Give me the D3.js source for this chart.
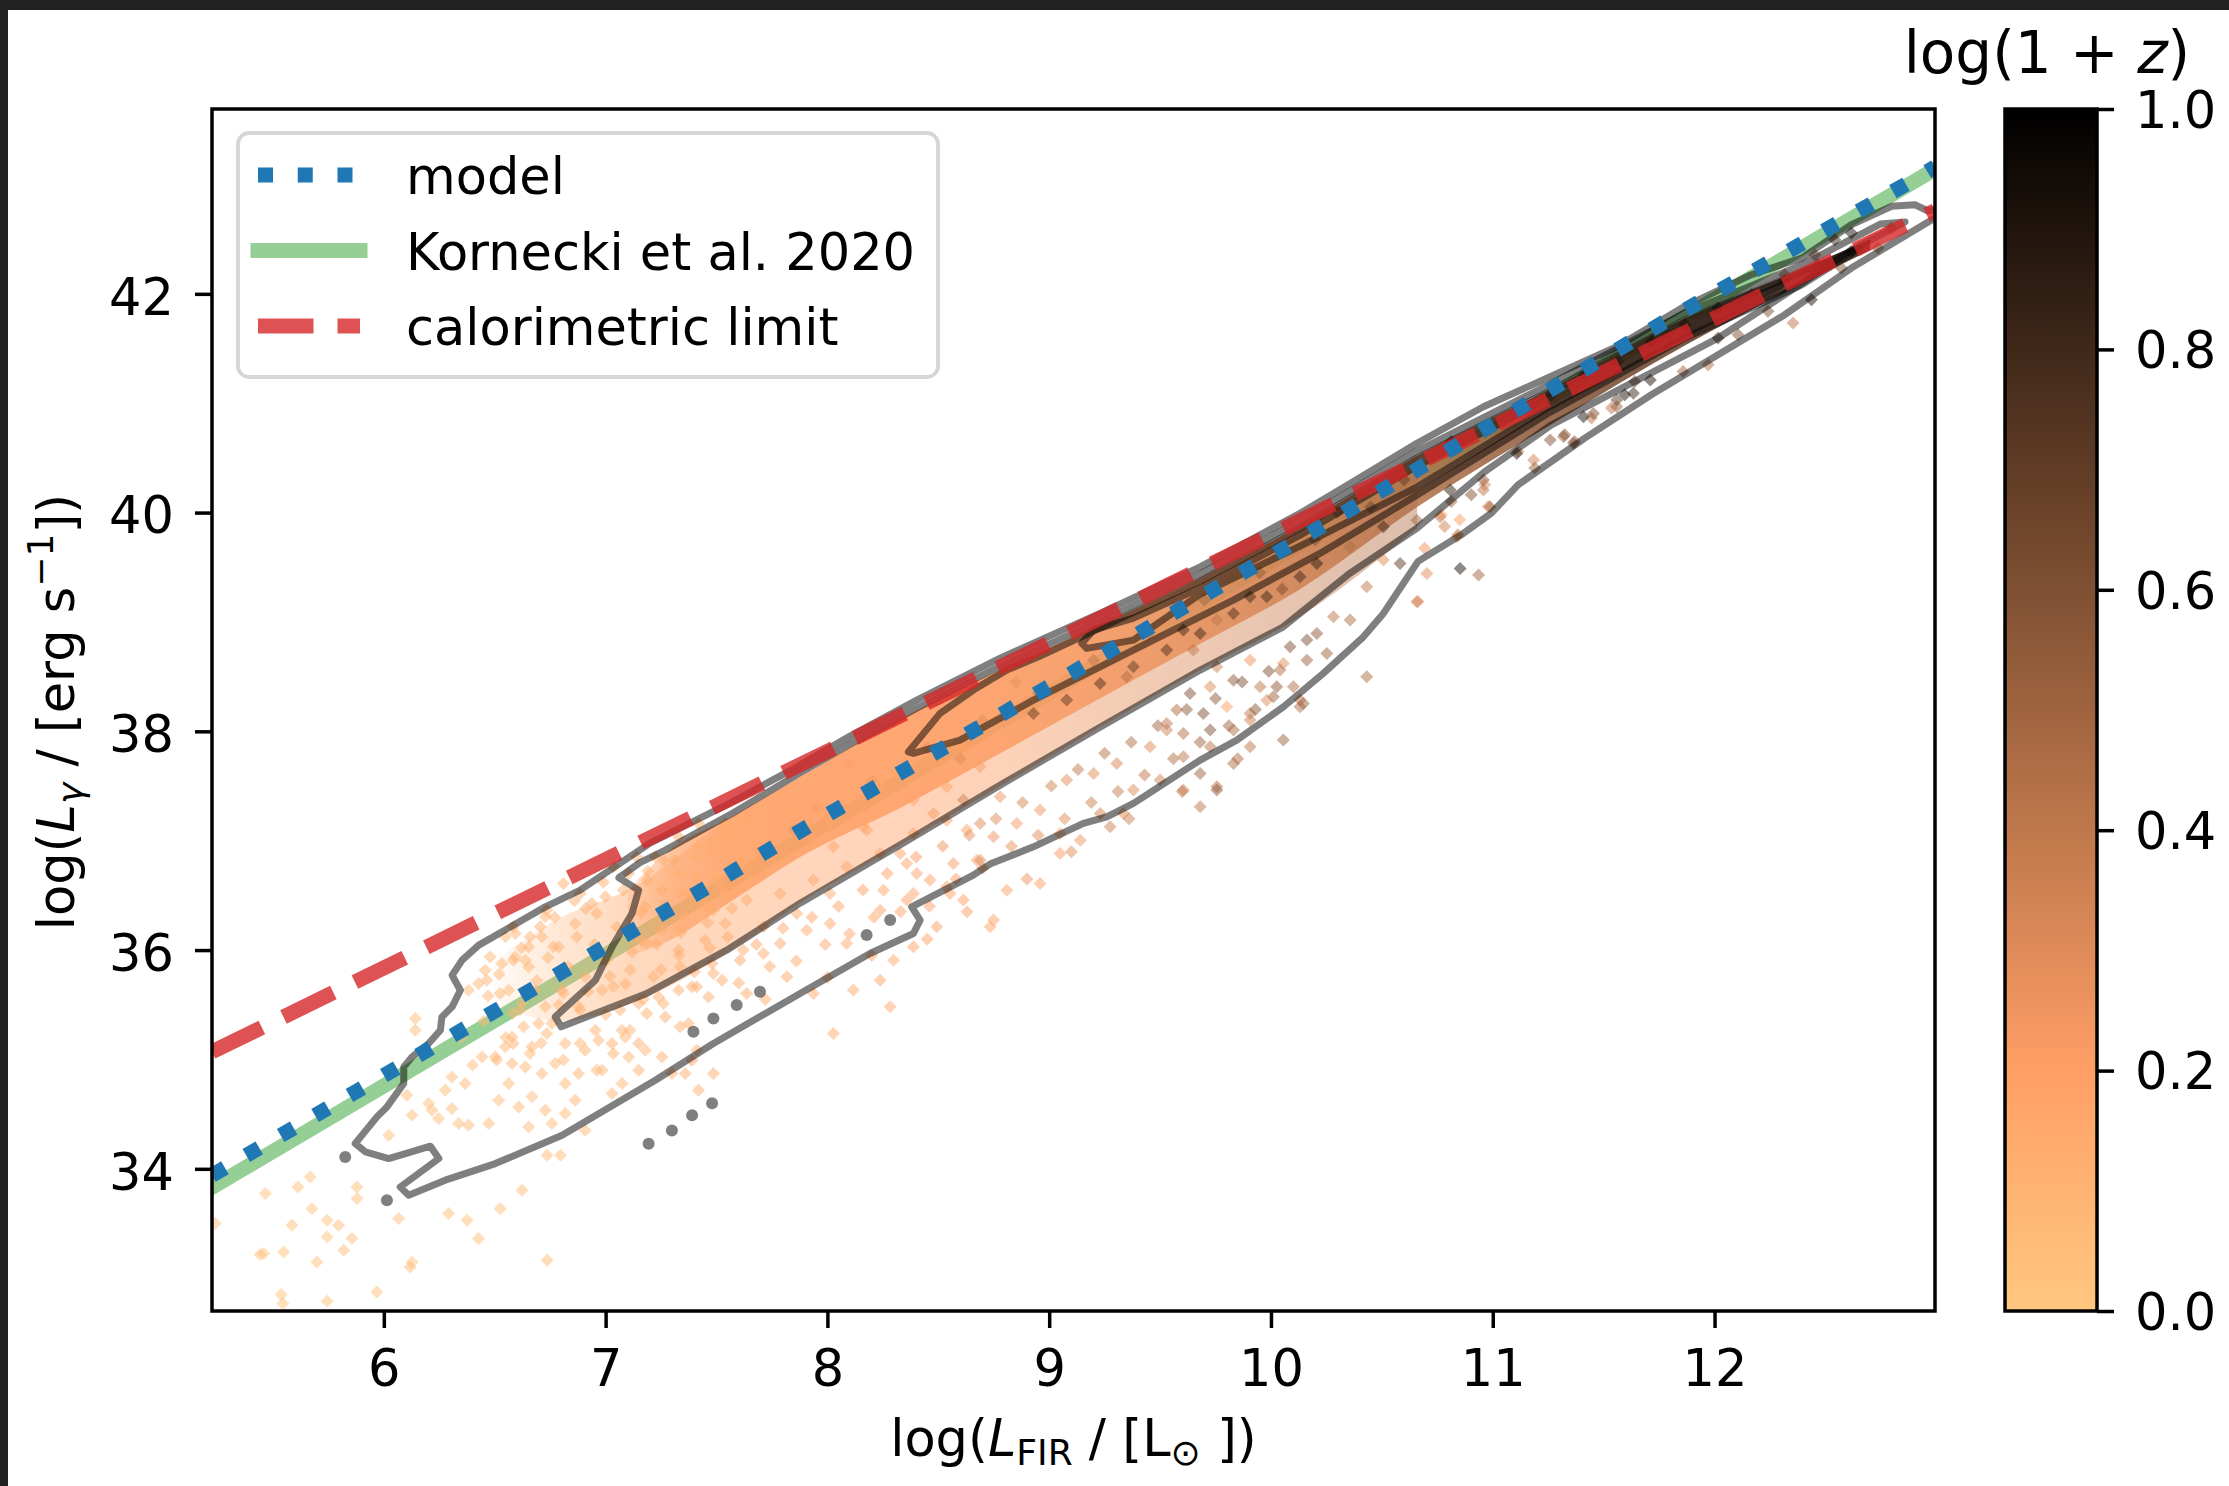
<!DOCTYPE html>
<html><head><meta charset="utf-8">
<script src="https://cdn.jsdelivr.net/npm/d3@7"></script>
<style>
html,body{margin:0;padding:0;background:#fff;}
svg{display:block;}
text{font-family:"DejaVu Sans",sans-serif;}
</style></head><body>
<svg id="chart" width="2229" height="1486"></svg>
<script>
// ---------------- data ----------------
const xTicks = [6,7,8,9,10,11,12];
const yTicks = [34,36,38,40,42];
const cbTicks = [0,0.2,0.4,0.6,0.8,1.0];
const xDomain = [5.2253, 12.994];
const yDomain = [32.70, 43.69];
const legendLabels = ["model","Kornecki et al. 2020","calorimetric limit"];

const modelX = [5.225, 6.524, 7.48, 7.952, 8.756, 9.552, 10.176, 10.663, 11.754, 12.887, 12.994];
const modelY = [33.94, 35.47, 36.60, 37.18, 38.12, 39.07, 39.81, 40.40, 41.72, 43.03, 43.16];
const kornX = [5.2253, 12.994];
const kornY = [33.83, 43.14];
const calX = [5.2253, 12.994];
const calY = [35.07, 42.76];

const contour1 = [[5.871,34.231],[5.969,34.475],[6.014,34.566],[6.090,34.780],[6.090,34.932],[6.127,35.023],[6.202,35.146],[6.255,35.267],[6.262,35.389],[6.308,35.481],[6.345,35.633],[6.308,35.770],[6.353,35.908],[6.428,36.045],[6.728,36.395],[6.885,36.548],[7.200,36.978],[7.561,37.343],[7.863,37.675],[8.102,37.956],[8.403,38.285],[8.779,38.669],[9.229,39.078],[9.681,39.504],[10.131,39.993],[10.357,40.267],[10.658,40.633],[10.958,40.968],[11.259,41.242],[11.559,41.516],[11.866,41.886],[12.166,42.175],[12.392,42.327],[12.617,42.632],[12.798,42.800],[12.903,42.815],[12.960,42.760],[13.05,42.78],[13.05,42.70],[12.993,42.693],[12.617,42.236],[12.317,41.809],[12.016,41.443],[11.715,41.077],[11.415,40.681],[11.114,40.254],[10.994,39.995],[10.858,39.797],[10.663,39.554],[10.507,39.078],[10.417,38.864],[10.236,38.530],[10.056,38.224],[9.846,37.919],[9.681,37.737],[9.380,37.341],[9.260,37.218],[9.154,37.158],[8.929,36.944],[8.733,36.786],[8.658,36.685],[8.380,36.395],[8.418,36.273],[8.388,36.152],[8.192,35.969],[7.877,35.603],[7.486,35.146],[7.224,34.810],[6.804,34.307],[6.503,34.048],[6.277,33.896],[6.112,33.759],[6.074,33.834],[6.248,34.094],[6.210,34.207],[6.022,34.094],[5.917,34.155]];
const contour2 = [[6.800,35.298],[6.773,35.389],[6.954,35.725],[7.029,36.029],[7.119,36.335],[7.149,36.548],[7.060,36.662],[7.155,36.799],[7.269,36.914],[7.570,37.249],[7.863,37.602],[8.102,37.883],[8.403,38.212],[8.779,38.596],[9.229,39.008],[9.681,39.438],[10.131,39.922],[10.658,40.562],[11.259,41.175],[11.866,41.824],[12.392,42.263],[12.747,42.638],[12.859,42.657],[12.702,42.492],[12.617,42.401],[12.317,41.992],[12.016,41.596],[11.565,41.120],[11.263,40.800],[10.961,40.370],[10.659,39.858],[10.357,39.447],[10.054,38.953],[9.681,38.560],[9.229,38.038],[8.779,37.508],[8.350,36.987],[7.877,36.429],[7.546,35.999],[7.185,35.603]];
const contour3 = [[8.365,37.812],[8.508,38.164],[8.658,38.377],[8.809,38.560],[8.959,38.688],[9.229,38.944],[9.681,39.374],[10.131,39.858],[10.658,40.498],[11.259,41.111],[11.866,41.760],[12.392,42.199],[12.656,42.419],[12.392,42.080],[11.866,41.596],[11.259,40.919],[10.659,40.160],[10.221,39.627],[9.830,39.200],[9.530,38.895],[9.229,38.590],[8.929,38.285],[8.598,37.919],[8.388,37.798]];
const contour4 = [[9.147,38.804],[9.199,38.925],[9.380,39.035],[9.681,39.310],[10.131,39.794],[10.658,40.425],[11.259,41.047],[11.866,41.687],[12.296,42.071],[11.866,41.633],[11.259,40.974],[10.659,40.233],[10.131,39.694],[9.681,39.255],[9.380,38.834],[9.169,38.758]];
const contourIslands = [[5.826,34.109],[6.014,33.712],[7.194,34.23],[7.299,34.35],[7.39,34.49],[7.48,34.6],[7.396,35.253],[7.486,35.375],[7.591,35.497],[7.696,35.619],[8.177,36.137],[8.283,36.274]];

// dense core of the cloud: edges and typical log(1+z) along it
const coreX      = [7.1, 7.3, 7.57, 7.877, 8.328, 8.779, 9.229, 9.681, 10.131, 10.659, 11.259, 11.868, 12.386, 12.702];
const coreTop    = [36.55, 36.93, 37.22, 37.58, 38.11, 38.56, 38.97, 39.40, 39.88, 40.52, 41.13, 41.78, 42.22, 42.50];
const coreBottom = [35.95, 36.10, 36.45, 36.85, 37.30, 37.80, 38.30, 38.80, 39.30, 40.05, 40.80, 41.53, 42.08, 42.40];
const coreZ      = [0.18, 0.18, 0.19, 0.2, 0.2, 0.21, 0.23, 0.28, 0.35, 0.45, 0.58, 0.7, 0.8, 0.85];
// looser halo around the core
const haloX      = [6.5, 6.8, 7.1, 7.57, 7.877, 8.328, 8.779, 9.229, 9.681, 10.131, 10.659];
const haloTop    = [35.90, 36.30, 36.55, 37.22, 37.58, 38.11, 38.56, 38.97, 39.40, 39.88, 40.52];
const haloBottom = [35.50, 35.35, 35.50, 36.00, 36.43, 36.96, 37.50, 38.04, 38.56, 39.05, 39.86];
const haloZ      = [0.1, 0.12, 0.14, 0.16, 0.18, 0.2, 0.22, 0.27, 0.32, 0.38, 0.45];

// galaxies: [log L_FIR, log L_gamma, log(1+z)]
const scatterLow = [[5.466,33.774,.03],[5.613,33.834,.04],[5.668,33.926,.03],[5.879,33.834,.05],[5.879,33.728,.04],[5.676,33.636,.03],[5.586,33.484,.05],[5.796,33.484,.04],[5.744,33.377,.03],[5.856,33.362,.05],[5.458,33.225,.04],[5.548,33.240,.03],[5.819,33.255,.05],[5.698,33.149,.04],[6.119,33.103,.05],[5.969,32.874,.04],[5.545,32.768,.03],[6.736,33.164,.06],[6.067,33.545,.05],[6.292,33.591,.05],[6.375,33.530,.04],[6.427,33.362,.06],[6.525,33.636,.05],[6.623,33.804,.06],[6.736,34.124,.07],[6.796,34.124,.06],[5.240,33.499,.03],[5.442,33.217,.03],[5.537,32.851,.04],[5.744,32.790,.03],[6.127,33.146,.04],[5.744,33.530,.04],
[6.022,34.307,.05],[6.142,35.374,.06],[6.142,35.267,.06],[6.104,34.673,.05],[6.127,34.490,.06],[6.202,34.597,.05],[6.247,34.459,.07],[6.307,34.551,.06],[6.337,34.414,.07],[6.382,34.398,.06],[6.473,34.414,.08],[6.518,34.627,.07],[6.563,34.779,.06],[6.608,34.566,.08],[6.668,34.658,.07],[6.728,34.536,.08],[6.653,34.383,.06],[6.758,34.414,.07],[6.818,34.505,.08],[6.863,34.627,.09],[6.908,34.353,.07],[7.029,34.688,.1],[7.074,34.779,.09],[7.149,34.901,.12],[7.179,35.084,.1],[7.104,35.023,.09],[6.984,34.901,.08],[6.878,34.871,.1],[6.818,34.779,.09],[6.367,34.779,.07],[6.307,34.840,.06],[6.277,34.718,.07],[6.217,34.536,.06],[6.443,35.023,.08],[6.503,35.023,.09],[6.548,35.115,.08],[6.578,34.962,.1],[6.638,34.932,.09],[6.713,34.871,.1],[6.773,34.962,.08],[6.668,35.115,.1],[6.578,35.206,.09],[6.698,35.328,.1],[6.758,35.328,.09],[6.818,35.145,.1],[6.908,35.084,.11],[6.968,35.176,.1],[7.029,35.145,.12],[7.089,35.206,.1],[6.382,35.633,.08],[6.427,35.694,.09],[6.457,35.816,.08],[6.533,35.877,.1],[6.593,35.938,.09],[6.638,35.907,.1],[6.563,35.633,.09],[6.623,35.511,.1],[6.683,35.633,.11],[6.728,35.481,.1],[6.803,35.633,.12],[6.878,35.481,.11],[6.954,35.267,.1],[6.548,36.121,.09],[6.593,36.151,.1],[6.653,36.029,.1],[6.713,36.121,.11],[6.788,36.029,.12],[6.863,36.243,.12],[6.938,36.426,.13],[6.999,36.487,.12],[6.728,36.304,.11],[6.653,35.846,.1],[6.908,35.755,.12],[6.984,35.633,.12],
[7.149,35.511,.12],[7.239,35.572,.13],[7.329,35.633,.12],[7.389,35.664,.14],[7.464,35.572,.13],[7.525,35.724,.14],[7.269,35.389,.12],[7.374,35.328,.13],[7.074,35.267,.11],[7.149,35.145,.12],[7.254,35.023,.13],[7.389,34.993,.2],[7.299,34.871,.12],[7.419,34.718,.13],[7.359,34.871,.12],
[7.179,36.395,.13],[7.254,36.548,.14],[7.329,36.700,.13],[7.404,36.853,.14],[7.480,37.005,.15],[7.540,37.157,.14],[7.254,36.182,.13],[7.359,36.304,.14],[7.449,36.426,.15],[7.525,36.548,.14],[7.104,36.700,.12],[7.224,36.853,.13],[7.329,37.035,.14],[7.419,37.157,.15],[7.164,36.090,.13],[7.329,35.999,.14],[7.449,36.090,.15],[7.540,36.243,.14],[7.480,35.877,.15],
[6.45,35.35,.08],[6.52,35.78,.09],[6.58,35.42,.1],[6.62,36.02,.1],[6.69,35.72,.11],[6.74,35.93,.1],[6.77,36.30,.12],[6.83,35.85,.11],[6.87,36.12,.12],[6.91,36.38,.12],[6.95,36.05,.13],[6.99,36.62,.12],[7.02,35.76,.12],[7.05,36.21,.13],[7.08,36.55,.13],[7.12,35.98,.12],[7.16,36.34,.14],[7.19,36.72,.13],[7.23,36.05,.13],[7.27,36.41,.14],[7.31,36.82,.14],[7.34,36.16,.13],[7.38,36.52,.15],[7.42,36.95,.14],[7.46,36.25,.14],[7.50,36.64,.15],[7.53,37.08,.15],[7.57,36.38,.14],[7.61,36.79,.15],[7.64,37.20,.16],[6.92,35.62,.11],[7.00,35.41,.11],[7.09,35.69,.12],[7.17,35.55,.12],[7.25,35.82,.13],[7.33,35.95,.13],[7.40,35.80,.14],[7.47,36.02,.14],[7.55,36.12,.15],[7.62,36.00,.14],[6.55,35.20,.09],[6.63,35.30,.09],[6.71,35.15,.1],[6.79,35.50,.1],[6.47,35.58,.08],[6.35,35.20,.08],[6.40,34.95,.07],[7.14,36.85,.13],[6.86,36.45,.12]];

const scatterMid = [[6.479,35.939,.1],[6.584,35.908,.11],[6.659,36.121,.1],[6.705,36.213,.12],[6.765,36.030,.11],[6.509,34.994,.08],[6.584,35.146,.09],[6.659,35.055,.08],[6.735,35.237,.1],[6.810,34.994,.09],[6.885,35.146,.1],[6.960,34.902,.09],[7.035,35.055,.11],[7.110,35.268,.1],[7.186,35.420,.12],[7.261,35.512,.11],[7.336,35.298,.12],[7.411,35.085,.13],[7.486,34.872,.14],[6.885,35.451,.11],[6.810,35.603,.1],[7.035,35.664,.12],[7.065,35.451,.11],[6.464,35.725,.09],[6.524,35.603,.1],[6.614,35.451,.09],[7.110,35.817,.12],[7.216,35.756,.13],[7.336,35.847,.12],[7.411,35.664,.14],[7.486,35.786,.13],[7.606,35.908,.15],[7.712,35.969,.14],[7.787,36.060,.16],[7.907,36.182,.15],[8.012,36.243,.17],[8.087,36.060,.16],[8.238,36.365,.18],[8.358,36.457,.2],[8.538,36.579,.22],[8.689,36.822,.3],[8.613,36.457,.2],[8.493,36.213,.18],[8.388,36.030,.17],[8.298,35.908,.16],[8.027,35.237,.15],[8.283,35.481,.16],[7.937,35.603,.14],[7.817,35.756,.15],[7.636,35.603,.14],[8.117,35.634,.15],[8.238,35.725,.17],[8.388,36.518,.19],[8.463,36.640,.2],[8.568,36.792,.22],[8.689,37.158,.3],[8.749,37.036,.25],[8.749,36.274,.2],[8.734,36.213,.18],
[6.584,36.213,.11],[6.735,36.365,.12],[6.885,36.518,.12],[6.960,36.335,.13],[6.810,36.609,.12],[7.035,36.762,.13],[7.186,36.640,.13],[7.261,36.823,.14],[7.336,36.518,.13],[7.411,36.670,.14],[7.486,36.883,.15],[7.561,37.036,.14],[7.636,36.762,.15],[7.712,36.914,.15],[7.787,37.127,.16],[7.862,37.249,.15],[7.937,37.005,.16],[8.012,37.188,.17],[8.087,37.371,.16],[8.163,37.127,.17],[8.238,37.493,.18],[8.313,37.615,.17],[8.388,37.371,.18],[8.463,37.737,.19],[8.538,37.493,.2],[8.613,37.859,.2],[8.689,37.676,.22],[7.486,36.365,.14],[7.636,36.457,.15],[7.787,36.518,.15],[7.937,36.640,.16],[8.087,36.762,.17],[8.238,36.884,.18],[8.388,37.066,.19],[8.538,37.188,.2],[8.613,37.371,.35],[8.358,36.792,.19],[8.012,36.518,.16],[7.862,36.335,.15],[7.712,36.213,.15],[7.336,36.213,.13],[7.186,36.061,.13],[7.005,35.908,.12],
[8.027,36.944,.18],[8.178,37.097,.2],[8.328,36.883,.19],[8.478,37.249,.22],[8.629,37.097,.2],[8.779,37.402,.25],[8.854,37.158,.22],[8.959,37.280,.25],[9.049,36.883,.22],[8.959,36.609,.2],[8.809,36.548,.18],[8.674,36.822,.2],[8.403,36.700,.18],[8.253,36.548,.17],[8.553,36.518,.2],[9.079,37.554,.3],[9.200,37.615,.3],[9.305,37.706,.32],[9.380,37.463,.3],[9.500,37.554,.35],[9.605,37.767,.4],[9.681,37.615,.5],[9.756,37.493,.45],[9.726,37.859,.4],[9.831,38.011,.45],[9.906,38.164,.4],[10.011,38.316,.5],[10.101,38.408,.45],[10.131,38.286,.4],[10.162,38.651,.5],[10.041,38.560,.45],[9.951,38.408,.4],[9.530,38.011,.35],[9.455,37.859,.3],[9.230,37.249,.35],[9.275,37.127,.35],[9.335,37.249,.3],[9.140,37.005,.25],[9.049,37.066,.22],[9.756,37.463,.55],[9.681,37.310,.4],[9.605,37.463,.35],[9.831,37.706,.45],[9.906,37.859,.4],[10.056,37.920,.5],[10.131,38.225,.45],
[8.929,38.164,.7],[9.079,38.286,.7],[9.230,38.438,.75],[9.380,38.591,.7],[9.530,38.743,.75],[9.681,38.895,.8],[9.831,39.078,.75],[9.981,39.231,.8],[10.131,39.413,.8],
[7.60,35.70,.14],[7.68,36.05,.15],[7.74,35.85,.15],[7.80,36.20,.16],[7.86,35.90,.15],[7.93,36.30,.17],[7.99,36.05,.16],[8.05,36.40,.18],[8.10,36.15,.17],[8.16,36.55,.2],[8.21,36.30,.18],[8.27,36.70,.2],[8.33,36.35,.19],[8.40,36.85,.22],[8.46,36.40,.2],[8.52,36.95,.25],[8.58,36.65,.22],[8.64,37.05,.28],[8.70,36.75,.25],[8.76,37.20,.3],[8.83,36.95,.27],[8.88,37.35,.32],[8.95,37.05,.3],[9.01,37.50,.35],[9.07,37.20,.3],[9.13,37.65,.4],[9.19,37.35,.35],[9.25,37.80,.42],[9.31,37.45,.38],[9.37,37.90,.45],[9.43,37.60,.4],[9.49,38.05,.5],[9.56,37.75,.45],[9.62,38.20,.55],[9.68,37.90,.5],[9.75,38.30,.55],[9.81,38.05,.5],[9.87,38.45,.6],[9.93,38.20,.55],[9.99,38.55,.6],[8.00,35.75,.16],[8.20,35.95,.17],[8.45,36.10,.19],[8.63,36.35,.2],[8.90,36.65,.25],[9.10,36.90,.3],[9.36,37.20,.35],[9.60,37.45,.4],[9.85,37.75,.45],[7.72,35.55,.15],
[7.70,36.90,.2],[7.95,37.30,.22],[8.20,37.55,.25],[8.45,37.85,.28],[8.70,38.10,.3],[8.95,38.35,.35],[9.20,38.65,.4],[9.45,38.90,.45],[9.70,39.20,.5],[9.95,39.45,.55],[10.20,39.75,.6],[10.45,40.05,.65],[7.85,37.10,.25],[8.60,37.75,.3],[9.35,38.50,.45],[10.05,39.30,.6],[10.60,40.30,.7],[10.30,40.00,.65],[8.10,37.70,.2],[8.85,38.45,.28]];

const scatterHigh = [[10.853,39.489,.9],[10.936,39.429,.5],[10.703,39.444,.3],[10.658,39.185,.35],[10.432,38.499,.45],[10.988,40.053,.5],[10.763,39.962,.4],[10.838,39.779,.2],[10.958,40.206,.4],[11.184,40.480,.35],[11.319,40.694,.5],[11.364,40.633,.6],[11.454,40.907,.6],[11.559,40.968,.5],[11.634,41.090,.8],[10.507,39.566,.3],[10.582,39.535,.7],[10.432,39.322,.4],[10.357,39.017,.45],[10.282,39.047,.4],[10.207,38.895,.55],[10.252,38.712,.5],[10.162,38.834,.6],[10.086,38.773,.6],[10.056,38.621,.3],[10.026,38.407,.55],[9.981,38.285,.3],[10.146,38.255,.5],[9.906,38.651,.25],[9.831,38.468,.55],[9.756,38.590,.35],[9.726,38.407,.3],[9.635,38.346,.6],[9.575,38.194,.45],[9.695,38.163,.6],[9.801,38.224,.2],[9.906,38.103,.35],[9.726,38.011,.6],[9.605,37.981,.45],[9.530,38.072,.4],[9.650,38.743,.4],
[9.605,38.926,.8],[9.906,39.230,.8],[10.207,39.535,.85],[10.507,39.871,.8],[10.808,40.206,.85],[11.108,40.541,.85],[11.409,40.876,.9],[11.710,41.212,.9],[9.756,39.017,.4],[10.056,39.322,.35],[10.357,39.688,.45],[10.658,39.931,.5],[10.958,40.297,.55],[11.259,40.663,.6],[11.559,41.029,.7],
[11.971,41.352,.45],[11.858,41.291,.5],[12.354,41.733,.4],[12.437,41.946,.9],[12.106,41.626,.6],[12.016,41.596,.8],[12.241,41.840,.6],[12.542,42.495,.8],[12.617,42.556,.9],[12.797,42.602,.4],[12.737,42.419,.5],[12.452,42.358,.55],[12.572,42.236,.6],[12.316,42.175,.5],[12.166,41.962,.6],[11.790,41.626,.7],[11.640,41.199,.65],[11.535,40.956,.4],[11.595,41.077,.9],[11.369,40.651,.5],[11.445,40.864,.4],[11.324,40.712,.6],[11.189,40.407,.5],[11.114,40.559,.4],[10.964,40.254,.3],[10.903,40.163,.6],[10.813,40.102,.5],[10.768,39.980,.2],[10.851,39.934,.2],[10.979,40.056,.3],[10.783,39.873,.35],[10.693,39.675,.25],[10.843,39.797,.4],[10.663,39.187,.3],
[10.813,40.651,.85],[11.114,40.956,.85],[11.414,41.260,.9],[11.715,41.565,.9],[12.016,41.870,.9],[12.316,42.114,.9],[12.617,42.388,.9],[12.467,42.266,.85],[12.166,41.992,.8],[11.865,41.718,.85],[11.565,41.382,.8],[11.264,41.078,.8],[10.964,40.773,.8]];

// ---------------- layout ----------------
const W = 2229, H = 1486;
const P = {left:212, right:1935, top:109, bottom:1311};
const CB = {left:2005, right:2097, top:109, bottom:1311};
const FS = 51;

const svg = d3.select("#chart");
const x = d3.scaleLinear().domain(xDomain).range([P.left, P.right]);
const y = d3.scaleLinear().domain(yDomain).range([P.bottom, P.top]);
const cy = d3.scaleLinear().domain([0,1]).range([CB.bottom, CB.top]);

// matplotlib "copper_r"
function copperR(t){
  const v = 1 - Math.max(0, Math.min(1, t));
  return d3.rgb(255*Math.min(1, 1.25*v), 255*0.7812*v, 255*0.4975*v).formatHex();
}

svg.append("rect").attr("width",W).attr("height",H).attr("fill","#fff");

const defs = svg.append("defs");
defs.append("clipPath").attr("id","plotclip").append("rect")
  .attr("x",P.left).attr("y",P.top).attr("width",P.right-P.left).attr("height",P.bottom-P.top);

function bandGradient(id, xs, zs, alphaFirst, alphaSecond, alphaRest){
  const g = defs.append("linearGradient").attr("id",id).attr("gradientUnits","userSpaceOnUse")
    .attr("x1",x(xs[0])).attr("x2",x(xs[xs.length-1])).attr("y1",0).attr("y2",0);
  const a = x(xs[0]), b = x(xs[xs.length-1]);
  xs.forEach((v,i)=>{
    g.append("stop").attr("offset",(x(v)-a)/(b-a)).attr("stop-color",copperR(zs[i]))
      .attr("stop-opacity", i===0 ? alphaFirst : (i===1 ? alphaSecond : alphaRest));
  });
}
bandGradient("halograd", haloX, haloZ, 0.05, 0.3, 0.45);
bandGradient("coregrad", coreX, coreZ, 0.25, 0.65, 0.85);

// colorbar gradient
const cbg = defs.append("linearGradient").attr("id","cbgrad")
  .attr("x1",0).attr("x2",0).attr("y1",1).attr("y2",0);
d3.range(0,1.0001,0.05).forEach(t=>{
  cbg.append("stop").attr("offset",t).attr("stop-color",copperR(t));
});

const plot = svg.append("g").attr("clip-path","url(#plotclip)");
const lineXY = d3.line().x(d=>x(d[0])).y(d=>y(d[1]));

// Kornecki et al. 2020
plot.append("path").attr("d",lineXY(kornX.map((v,i)=>[v,kornY[i]])))
  .attr("fill","none").attr("stroke","#2ca02c").attr("stroke-opacity",0.5)
  .attr("stroke-width",15).attr("stroke-linecap","square");

// halo + dense core
const halo = d3.area().x(i=>x(haloX[i])).y0(i=>y(haloBottom[i])).y1(i=>y(haloTop[i])).curve(d3.curveMonotoneX);
plot.append("path").attr("d",halo(d3.range(haloX.length))).attr("fill","url(#halograd)");
const core = d3.area().x(i=>x(coreX[i])).y0(i=>y(coreBottom[i])).y1(i=>y(coreTop[i])).curve(d3.curveMonotoneX);
plot.append("path").attr("d",core(d3.range(coreX.length))).attr("fill","url(#coregrad)");

// scatter
const pts = scatterLow.concat(scatterMid, scatterHigh).slice().sort((a,b)=>a[2]-b[2]);
const diamond = "M0,-6.5L6.5,0L0,6.5L-6.5,0Z";
plot.selectAll("path.pt").data(pts).join("path").attr("class","pt")
  .attr("d",diamond).attr("transform",d=>`translate(${x(d[0])},${y(d[1])})`)
  .attr("fill",d=>copperR(d[2])).attr("fill-opacity",0.5);

// contours (semi-transparent black -> grey on white, brown over the cloud)
const cline = d3.line().x(d=>x(d[0])).y(d=>y(d[1])).curve(d3.curveLinearClosed);
[contour1, contour2, contour3, contour4].forEach(c=>{
  plot.append("path").attr("d",cline(c)).attr("fill","none")
    .attr("stroke","#000").attr("stroke-opacity",0.5).attr("stroke-width",7)
    .attr("stroke-linejoin","round");
});
plot.selectAll("circle.island").data(contourIslands).join("circle")
  .attr("class","island").attr("cx",d=>x(d[0])).attr("cy",d=>y(d[1])).attr("r",6)
  .attr("fill","#000").attr("fill-opacity",0.5);

// calorimetric limit
plot.append("path").attr("d",lineXY(calX.map((v,i)=>[v,calY[i]])))
  .attr("fill","none").attr("stroke","#d62728").attr("stroke-opacity",0.8)
  .attr("stroke-width",15).attr("stroke-dasharray","55.5 24");

// model
plot.append("path").attr("d",lineXY(modelX.map((v,i)=>[v,modelY[i]])))
  .attr("fill","none").attr("stroke","#1f77b4")
  .attr("stroke-width",15).attr("stroke-dasharray","15 24.75");

// frame
svg.append("rect").attr("x",P.left).attr("y",P.top).attr("width",P.right-P.left).attr("height",P.bottom-P.top)
  .attr("fill","none").attr("stroke","#000").attr("stroke-width",3.5);

// axes
const ax = svg.append("g").attr("transform",`translate(0,${P.bottom})`)
  .call(d3.axisBottom(x).tickValues(xTicks).tickSize(17).tickPadding(22).tickFormat(d3.format("d")));
const ay = svg.append("g").attr("transform",`translate(${P.left},0)`)
  .call(d3.axisLeft(y).tickValues(yTicks).tickSize(17).tickPadding(21).tickFormat(d3.format("d")));
[ax, ay].forEach(g=>{
  g.attr("font-size",FS).attr("font-family","DejaVu Sans");
  g.select(".domain").remove();
  g.selectAll(".tick line").attr("stroke","#000").attr("stroke-width",3.5);
  g.selectAll(".tick text").attr("fill","#000");
});
ay.selectAll(".tick text").attr("dy","0.4em");

// axis labels
const xl = svg.append("text").attr("x",(P.left+P.right)/2).attr("y",1456)
  .attr("text-anchor","middle").attr("font-size",FS);
xl.append("tspan").text("log(");
xl.append("tspan").attr("font-style","italic").text("L");
xl.append("tspan").attr("font-size",36).attr("dy",9).text("FIR");
xl.append("tspan").attr("dy",-9).text(" / [L");
xl.append("tspan").attr("font-size",36).attr("dy",9).text("⊙");
xl.append("tspan").attr("dy",-9).text(" ])");

const yl = svg.append("text").attr("transform","translate(74,712) rotate(-90)")
  .attr("text-anchor","middle").attr("font-size",FS);
yl.append("tspan").text("log(");
yl.append("tspan").attr("font-style","italic").text("L");
yl.append("tspan").attr("font-style","italic").attr("font-size",36).attr("dy",9).text("γ");
yl.append("tspan").attr("dy",-9).text(" / [erg s");
yl.append("tspan").attr("font-size",36).attr("dy",-21).text("−1");
yl.append("tspan").attr("dy",21).text("])");

// colorbar
svg.append("rect").attr("x",CB.left).attr("y",CB.top).attr("width",CB.right-CB.left).attr("height",CB.bottom-CB.top)
  .attr("fill","url(#cbgrad)").attr("stroke","#000").attr("stroke-width",3.5);
const ac = svg.append("g").attr("transform",`translate(${CB.right},0)`)
  .call(d3.axisRight(cy).tickValues(cbTicks).tickSize(17).tickPadding(21).tickFormat(d3.format(".1f")));
ac.attr("font-size",FS).attr("font-family","DejaVu Sans");
ac.select(".domain").remove();
ac.selectAll(".tick line").attr("stroke","#000").attr("stroke-width",3.5);
ac.selectAll(".tick text").attr("fill","#000").attr("dy","0.36em");

const cl = svg.append("text").attr("x",2047).attr("y",73).attr("text-anchor","middle").attr("font-size",58);
cl.append("tspan").text("log(1 + ");
cl.append("tspan").attr("font-style","italic").text("z");
cl.append("tspan").text(")");

// legend
const lg = svg.append("g");
lg.append("rect").attr("x",238).attr("y",133).attr("width",700).attr("height",244).attr("rx",11)
  .attr("fill","#fff").attr("fill-opacity",0.8).attr("stroke","#d6d6d6").attr("stroke-width",3.8);
const rows = [175, 250.5, 326];
const base = [194, 269.5, 345];
lg.append("line").attr("x1",258).attr("x2",360).attr("y1",rows[0]).attr("y2",rows[0])
  .attr("stroke","#1f77b4").attr("stroke-width",15).attr("stroke-dasharray","15 24.75");
lg.append("line").attr("x1",258).attr("x2",360).attr("y1",rows[1]).attr("y2",rows[1])
  .attr("stroke","#2ca02c").attr("stroke-opacity",0.5).attr("stroke-width",15).attr("stroke-linecap","square");
lg.append("line").attr("x1",258).attr("x2",360).attr("y1",rows[2]).attr("y2",rows[2])
  .attr("stroke","#d62728").attr("stroke-opacity",0.8).attr("stroke-width",15).attr("stroke-dasharray","55.5 24");
legendLabels.forEach((t,i)=>{
  lg.append("text").attr("x",406).attr("y",base[i]).attr("font-size",FS).text(t);
});

// dark screenshot edge
svg.append("rect").attr("x",0).attr("y",0).attr("width",W).attr("height",10).attr("fill","#212121");
svg.append("rect").attr("x",0).attr("y",0).attr("width",8).attr("height",H).attr("fill","#212121");
</script>
</body></html>
